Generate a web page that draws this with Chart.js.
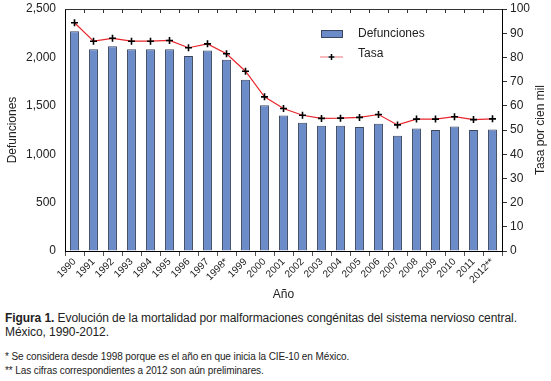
<!DOCTYPE html>
<html><head><meta charset="utf-8">
<script src="https://cdn.jsdelivr.net/npm/chart.js@4/dist/chart.umd.min.js"></script>
<style>
body{margin:0;background:#fff;width:551px;height:381px;overflow:hidden;font-family:"Liberation Sans",Arial,sans-serif;color:#222}
#wrap{position:absolute;left:0;top:0;width:551px;height:305px}
.cap{position:absolute;left:5px;font-size:12px;line-height:14px;white-space:nowrap;letter-spacing:-0.08px}
.note{position:absolute;left:5px;font-size:10px;line-height:12px;white-space:nowrap;letter-spacing:-0.1px}
</style></head>
<body>
<div id="wrap"><canvas id="c" width="551" height="305"></canvas></div>
<div class="cap" style="top:311px"><b>Figura 1.</b> Evolución de la mortalidad por malformaciones congénitas del sistema nervioso central.<br>México, 1990-2012.</div>
<div class="note" style="top:351px">* Se considera desde 1998 porque es el año en que inicia la CIE-10 en México.</div>
<div class="note" style="top:365px">** Las cifras correspondientes a 2012 son aún preliminares.</div>
<script>
const years = ['1990','1991','1992','1993','1994','1995','1996','1997','1998*','1999','2000','2001','2002','2003','2004','2005','2006','2007','2008','2009','2010','2011','2012**'];
const defunciones = [2270,2085,2115,2085,2085,2085,2015,2070,1975,1770,1505,1400,1325,1295,1295,1280,1315,1190,1265,1250,1285,1250,1255];
const tasa = [94.3,86.7,87.9,86.7,86.7,87.0,84.0,85.6,81.5,74.3,63.7,58.9,56.1,54.8,54.9,55.2,56.4,52.1,54.5,54.5,55.5,54.3,54.6];
const leftTicks = [0,500,1000,1500,2000,2500];
const rightTicks = [0,10,20,30,40,50,60,70,80,90,100];
const rightTitle = 'Tasa por cien mil';

Chart.defaults.font.family = '"Liberation Sans", Arial, sans-serif';
Chart.defaults.font.size = 12;
Chart.defaults.color = '#222';

const extras = {
  id:'extras',
  afterDraw(chart){
    const {ctx, chartArea:a, scales:{x}} = chart;
    ctx.save();
    ctx.strokeStyle = '#333'; ctx.lineWidth = 1;
    ctx.beginPath();
    ctx.moveTo(a.left, a.top+0.5); ctx.lineTo(a.right, a.top+0.5);
    const n = x.ticks.length;
    for(let i=1;i<n;i++){
      const px = Math.round((x.getPixelForTick(i-1)+x.getPixelForTick(i))/2)+0.5;
      ctx.moveTo(px, a.top); ctx.lineTo(px, a.top+4);
    }
    ctx.stroke();
    // legend
    ctx.fillStyle = '#6b8cc8'; ctx.strokeStyle = '#3b4660';
    ctx.fillRect(321, 30, 22, 8); ctx.strokeRect(321.5, 30.5, 21, 7);
    ctx.fillStyle = '#222'; ctx.font = '12px "Liberation Sans", Arial, sans-serif';
    ctx.textBaseline = 'middle'; ctx.textAlign = 'left';
    ctx.fillText(chart.data.datasets[1].label, 358, 34);
    ctx.fillText(chart.data.datasets[0].label, 358, 54);
    ctx.strokeStyle = '#f4a3a6'; ctx.lineWidth = 1.5;
    ctx.beginPath(); ctx.moveTo(320,57); ctx.lineTo(328,57); ctx.moveTo(335,57); ctx.lineTo(343,57); ctx.stroke();
    ctx.strokeStyle = '#000'; ctx.lineWidth = 1.5;
    ctx.beginPath(); ctx.moveTo(328.5,57); ctx.lineTo(334.5,57); ctx.moveTo(331.5,54); ctx.lineTo(331.5,60); ctx.stroke();
    // right axis title, reading bottom-to-top
    ctx.translate(541, (a.top+a.bottom)/2);
    ctx.rotate(-Math.PI/2);
    ctx.textAlign = 'center';
    ctx.fillText(rightTitle, 0, 0);
    ctx.restore();
  }
};

new Chart(document.getElementById('c'), {
  data:{
    labels: years,
    datasets:[
      {type:'line', label:'Tasa', data:tasa, yAxisID:'y2', order:0,
       borderColor:'#e8262b', borderWidth:1.2, pointStyle:'cross', pointRadius:3.5,
       pointBorderColor:'#000', pointBorderWidth:1.6, tension:0},
      {type:'bar', label:'Defunciones', data:defunciones, yAxisID:'y', order:1,
       backgroundColor:'#6b8cc8', borderColor:'#3b4660', borderWidth:1,
       barPercentage:0.47, categoryPercentage:1}
    ]
  },
  options:{
    responsive:false, animation:false,
    layout:{padding:{top:9,bottom:0,left:0,right:0}},
    plugins:{legend:{display:false}, tooltip:{enabled:false}},
    scales:{
      x:{
        offset:true,
        grid:{offset:true, drawOnChartArea:false, tickLength:5, color:'#555'},
        border:{display:true, color:'#000'},
        ticks:{autoSkip:false, minRotation:45, maxRotation:45, font:{size:10}, padding:0},
        title:{display:true, text:'Año', font:{size:12}, padding:{top:0,bottom:3}},
        afterFit(s){ s.height = 54; s.paddingLeft = 0; s.paddingRight = 0; }
      },
      y:{
        position:'left', min:0, max:2500,
        afterBuildTicks(s){ s.ticks = leftTicks.map(v=>({value:v})); },
        ticks:{padding:9, callback:v=>v.toLocaleString('en-US')},
        grid:{drawOnChartArea:false, drawTicks:false},
        border:{display:true, color:'#000'},
        title:{display:true, text:'Defunciones', padding:{top:5,bottom:4}},
        afterFit(s){ s.width = 65; s.paddingTop = 0; s.paddingBottom = 0; }
      },
      y2:{
        position:'right', min:0, max:100,
        afterBuildTicks(s){ s.ticks = rightTicks.map(v=>({value:v})); },
        ticks:{padding:3},
        grid:{drawOnChartArea:false, tickLength:5, color:'#333'},
        border:{display:true, color:'#000'},
        title:{display:false},
        afterFit(s){ s.width = 49; s.paddingTop = 0; s.paddingBottom = 0; }
      }
    }
  },
  plugins:[extras]
});
</script>
</body></html>
